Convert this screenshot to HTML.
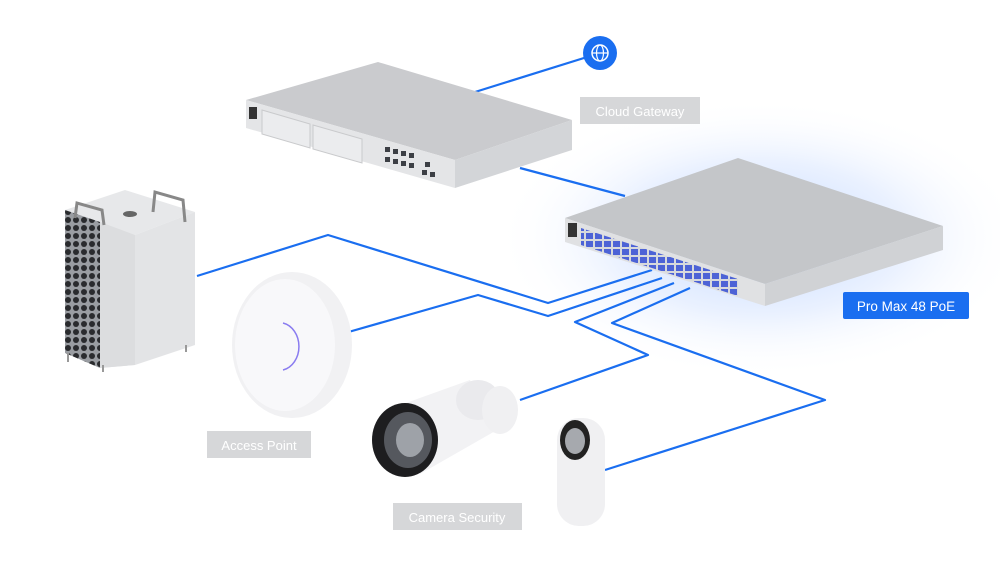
<!DOCTYPE html>
<html><head><meta charset="utf-8"><style>
html,body{margin:0;padding:0;background:#fff;}
svg{display:block}
text{font-family:"Liberation Sans",sans-serif}
</style></head><body>
<svg width="1000" height="573" viewBox="0 0 1000 573" xmlns="http://www.w3.org/2000/svg">
<defs>
<radialGradient id="glow" cx="0.5" cy="0.5" r="0.5">
<stop offset="0" stop-color="#a6c6ff" stop-opacity="0.75"/>
<stop offset="0.55" stop-color="#d0e0ff" stop-opacity="0.45"/>
<stop offset="1" stop-color="#fff" stop-opacity="0"/>
</radialGradient>
<pattern id="holes" width="8" height="8" patternUnits="userSpaceOnUse">
<rect width="8" height="8" fill="#9a9da2"/>
<circle cx="4" cy="4" r="3" fill="#2a2b2e"/>
</pattern>
<pattern id="ports" width="9" height="8" patternUnits="userSpaceOnUse">
<rect width="9" height="8" fill="#d7d9dc"/>
<rect x="1" y="1" width="7" height="6" fill="#4d63d6"/>
</pattern>
</defs>
<rect width="1000" height="573" fill="#fff"/>
<ellipse cx="760" cy="238" rx="265" ry="140" fill="url(#glow)"/>

<g fill="none" stroke="#1a6ef0" stroke-width="2.2" stroke-linejoin="round">
<path d="M600 53 L475 92"/>
<path d="M520 168 L625 196"/>
<path d="M197 276 L328 235 L548 303 L652 270"/>
<path d="M345 333 L478 295 L548 316 L662 278"/>
<path d="M520 400 L648 355 L575 322 L674 283"/>
<path d="M605 470 L825 400 L612 323 L690 288"/>
</g>

<circle cx="600" cy="53" r="17" fill="#1a6ef0"/>
<circle cx="600" cy="53" r="8" fill="none" stroke="#fff" stroke-width="1.5"/>
<ellipse cx="600" cy="53" rx="3.5" ry="8" fill="none" stroke="#fff" stroke-width="1.2"/>
<line x1="592" y1="53" x2="608" y2="53" stroke="#fff" stroke-width="1.2"/>

<polygon points="246,100 378,62 572,120 455,160" fill="#cacbce"/>
<polygon points="246,100 455,160 455,188 246,128" fill="#e4e5e7"/>
<polygon points="455,160 572,120 572,150 455,188" fill="#d3d5d8"/>
<rect x="249" y="107" width="8" height="12" fill="#333"/>
<polygon points="262,110 310,124 310,148 262,134" fill="#ebecee" stroke="#c9cacc"/>
<polygon points="313,125 362,139 362,163 313,149" fill="#ebecee" stroke="#c9cacc"/>
<g fill="#3c3f45">
<rect x="385" y="147" width="5" height="5"/><rect x="393" y="149" width="5" height="5"/><rect x="401" y="151" width="5" height="5"/><rect x="409" y="153" width="5" height="5"/>
<rect x="385" y="157" width="5" height="5"/><rect x="393" y="159" width="5" height="5"/><rect x="401" y="161" width="5" height="5"/><rect x="409" y="163" width="5" height="5"/>
<rect x="425" y="162" width="5" height="5"/><rect x="430" y="172" width="5" height="5"/><rect x="422" y="170" width="5" height="5"/>
</g>
<rect x="580" y="97" width="120" height="27" fill="#d6d7d9"/>
<text x="640" y="116" font-size="13" fill="#fff" text-anchor="middle">Cloud Gateway</text>

<polygon points="565,218 738,158 943,226 765,284" fill="#c4c6c9"/>
<polygon points="565,218 765,284 765,306 565,242" fill="#e0e1e3"/>
<polygon points="765,284 943,226 943,250 765,306" fill="#d0d2d5"/>
<rect x="568" y="223" width="9" height="14" fill="#333"/>
<polygon points="581,228 738,279 738,296 581,245" fill="url(#ports)"/>
<rect x="843" y="292" width="126" height="27" rx="2" fill="#1a6ef0"/>
<text x="906" y="311" font-size="13.5" fill="#fff" text-anchor="middle">Pro Max 48 PoE</text>

<polygon points="65,210 125,190 195,212 135,235" fill="#e7e8ea"/>
<polygon points="65,210 100,222 100,368 65,353" fill="url(#holes)"/>
<polygon points="100,222 135,235 195,212 195,345 135,365 100,368" fill="#e3e4e6"/>
<polygon points="100,222 135,235 135,365 100,368" fill="#dcdddf"/>
<ellipse cx="130" cy="214" rx="7" ry="3" fill="#666"/>
<path d="M153 212 L155 192 L183 200 L185 222" fill="none" stroke="#888" stroke-width="3"/>
<path d="M75 218 L77 203 L102 210 L104 225" fill="none" stroke="#888" stroke-width="3"/>
<g stroke="#999" stroke-width="2"><line x1="68" y1="353" x2="68" y2="362"/><line x1="103" y1="365" x2="103" y2="372"/><line x1="186" y1="345" x2="186" y2="352"/></g>

<ellipse cx="292" cy="345" rx="60" ry="73" fill="#f1f1f3"/>
<ellipse cx="285" cy="345" rx="50" ry="66" fill="#f8f8fa"/>
<path d="M283 323 A20 24 0 0 1 283 370" fill="none" stroke="#8a7cf0" stroke-width="1.5"/>
<rect x="207" y="431" width="104" height="27" fill="#d6d7d9"/>
<text x="259" y="450" font-size="13" fill="#fff" text-anchor="middle">Access Point</text>

<polygon points="392,408 470,380 497,430 420,474" fill="#f2f2f4"/>
<ellipse cx="478" cy="400" rx="22" ry="20" fill="#eaeaed"/>
<ellipse cx="500" cy="410" rx="18" ry="24" fill="#f0f0f2"/>
<ellipse cx="405" cy="440" rx="33" ry="37" fill="#1d1d1f"/>
<ellipse cx="408" cy="440" rx="24" ry="28" fill="#55585e"/>
<ellipse cx="410" cy="440" rx="14" ry="17" fill="#9ea2a8"/>

<rect x="557" y="418" width="48" height="108" rx="22" fill="#f0f0f2"/>
<ellipse cx="575" cy="440" rx="15" ry="20" fill="#222"/>
<ellipse cx="575" cy="441" rx="10" ry="13" fill="#a6a9ae"/>
<rect x="393" y="503" width="129" height="27" fill="#d6d7d9"/>
<text x="457" y="522" font-size="13" fill="#fff" text-anchor="middle">Camera Security</text>
</svg>
</body></html>
